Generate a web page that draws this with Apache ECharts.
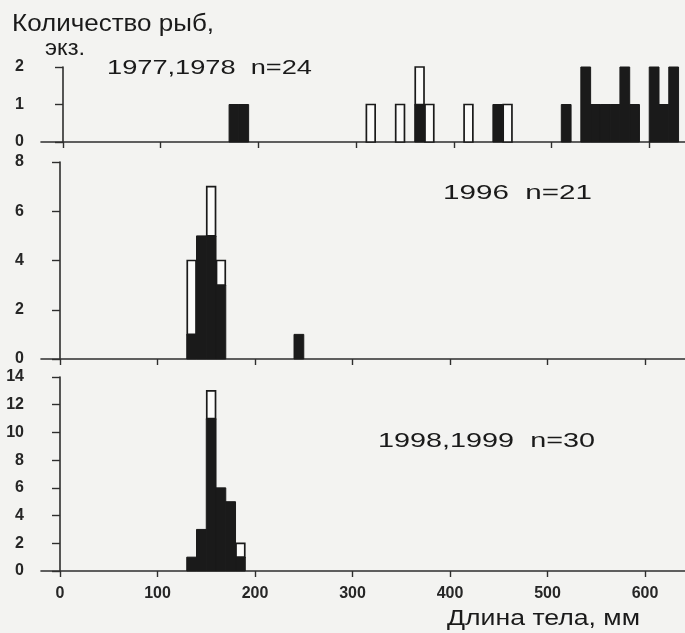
<!DOCTYPE html>
<html>
<head>
<meta charset="utf-8">
<script src="https://cdn.jsdelivr.net/npm/echarts@6/dist/echarts.min.js"></script>
<style>
html,body{margin:0;padding:0;background:#f3f3f1;}
#chart{width:685px;height:633px;}
</style>
</head>
<body>
<div id="chart"></div>
<script>
// ---------- data ----------
const BIN = 10; // bin width, mm
const xTickValues = [0, 100, 200, 300, 400, 500, 600];
const yTicks1 = [0, 1, 2];
const yTicks2 = [0, 2, 4, 6, 8];
const yTicks3 = [0, 2, 4, 6, 8, 10, 12, 14];

// Panel 1: 1977, 1978 (n=24)
const bins1  = [170, 180, 310, 340, 360, 370, 410, 440, 450, 510, 530, 540, 550, 560, 570, 580, 600, 610, 620];
const black1 = [1,   1,   0,   0,   1,   0,   0,   1,   0,   1,   2,   1,   1,   1,   2,   1,   2,   1,   2];
const white1 = [0,   0,   1,   1,   1,   1,   1,   0,   1,   0,   0,   0,   0,   0,   0,   0,   0,   0,   0];

// Panel 2: 1996 (n=21)
const bins2  = [130, 140, 150, 160, 240];
const black2 = [1,   5,   5,   3,   1];
const white2 = [3,   0,   2,   1,   0];

// Panel 3: 1998, 1999 (n=30)
const bins3  = [130, 140, 150, 160, 170, 180];
const black3 = [1,   3,   11,  6,   5,   1];
const white3 = [0,   0,   2,   0,   0,   1];

const yAxisTitle = ['Количество рыб,', 'экз.'];
const panelTitles = ['1977,1978  n=24', '1996  n=21', '1998,1999  n=30'];
const xAxisTitle = 'Длина тела, мм';

// ---------- chart ----------
const chart = echarts.init(document.getElementById('chart'), null, {renderer: 'canvas'});
const INK = '#1a1a1a';
const AX = '#2e2e2e';
const FONT = '"Liberation Sans", Arial, sans-serif';

const grids = [
  {left: 41, right: 0, top: 67,  height: 75},
  {left: 41, right: 0, top: 162, height: 197},
  {left: 41, right: 0, top: 377, height: 194}
];
const xRanges = [[-22.5, 636.6], [-19.5, 641], [-19.5, 641]];
const yMax = [yTicks1[yTicks1.length - 1], yTicks2[yTicks2.length - 1], yTicks3[yTicks3.length - 1]];
const yInt = [yTicks1[1] - yTicks1[0], yTicks2[1] - yTicks2[0], yTicks3[1] - yTicks3[0]];

const xAxes = grids.map((g, i) => ({
  gridIndex: i, type: 'value',
  min: xRanges[i][0], max: xRanges[i][1],
  axisLine: {show: true, onZero: false, lineStyle: {color: AX, width: 1.6}},
  axisTick: {show: true, length: 6, inside: false, customValues: xTickValues, lineStyle: {color: AX, width: 1.4}},
  axisLabel: {show: i === 2, customValues: xTickValues, margin: 15, color: '#262626',
              fontFamily: FONT, fontSize: 16, fontWeight: 'bold'},
  splitLine: {show: false}
}));
const yAxes = grids.map((g, i) => ({
  gridIndex: i, type: 'value', min: 0, max: yMax[i], interval: yInt[i],
  axisLine: {show: true, lineStyle: {color: AX, width: 1.6}},
  axisTick: {show: true, length: 8, inside: false, lineStyle: {color: AX, width: 1.4}},
  axisLabel: {show: true, margin: 17, color: '#262626', fontFamily: FONT, fontSize: 16, fontWeight: 'bold'},
  splitLine: {show: false}
}));

function renderItem(params, api) {
  const x0 = api.value(0), b = api.value(1), w = api.value(2);
  const p0 = api.coord([x0, 0]);
  const p1 = api.coord([x0 + BIN, b]);
  const p2 = api.coord([x0 + BIN, b + w]);
  const children = [];
  if (b > 0) {
    children.push({type: 'rect', shape: {x: p0[0], y: p1[1], width: p1[0] - p0[0], height: p0[1] - p1[1]},
      style: {fill: INK, stroke: INK, lineWidth: 1}});
  }
  if (w > 0) {
    children.push({type: 'rect', shape: {x: p0[0] + 0.5, y: p2[1], width: p1[0] - p0[0] - 1, height: p1[1] - p2[1]},
      style: {fill: '#fbfbfa', stroke: INK, lineWidth: 1.7}});
  }
  return {type: 'group', children};
}

const panels = [[bins1, black1, white1], [bins2, black2, white2], [bins3, black3, white3]];
const series = panels.map((p, i) => ({
  type: 'custom', xAxisIndex: i, yAxisIndex: i, renderItem,
  encode: {x: 0, y: [1, 2]},
  data: p[0].map((x, k) => [x, p[1][k], p[2][k]]),
  clip: false, silent: true, animation: false
}));

// text helpers: stretch text horizontally to the reference's width
const measureCtx = document.createElement('canvas').getContext('2d');
function textEl(text, x, y, size, targetWidth) {
  const font = size + 'px ' + FONT;
  measureCtx.font = font;
  const w = measureCtx.measureText(text).width;
  const sx = targetWidth ? targetWidth / w : 1;
  return {type: 'text', x, y, scaleX: sx, scaleY: 1, silent: true,
    style: {text, font, fill: '#1a1a1a', textAlign: 'left', textVerticalAlign: 'middle', verticalAlign: 'middle'}};
}

const graphic = [
  textEl(yAxisTitle[0], 12, 25, 23, 202),
  textEl(yAxisTitle[1], 45, 49, 22, 40),
  textEl(panelTitles[0], 107, 68, 21, 205),
  textEl(panelTitles[1], 443, 193, 21, 149),
  textEl(panelTitles[2], 378, 441, 21, 217),
  textEl(xAxisTitle, 447, 619, 22, 193)
];

chart.setOption({
  backgroundColor: '#f3f3f1',
  animation: false,
  grid: grids,
  xAxis: xAxes,
  yAxis: yAxes,
  series,
  graphic
});
</script>
</body>
</html>
